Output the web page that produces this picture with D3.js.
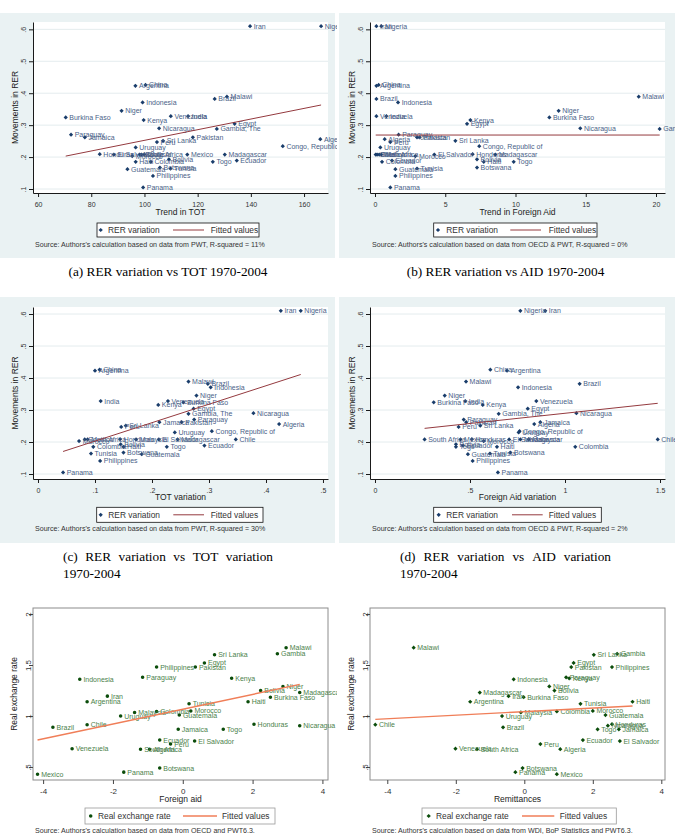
<!DOCTYPE html>
<html><head><meta charset="utf-8">
<script src="https://cdn.jsdelivr.net/npm/d3@7"></script>
<style>body{margin:0;background:#fff}</style>
</head><body>
<script>
// ---------------- DATA ----------------
const countries = ["Iran","Nigeria","China","Argentina","Malawi","Brazil","Indonesia","Niger","Venezuela","India","Burkina Faso","Kenya","Egypt","Nicaragua","Gambia, The","Paraguay","Jamaica","Pakistan","Algeria","Sri Lanka","Peru","Congo, Republic of","Uruguay","Honduras","El Salvador","Morocco","Malaysia","Mexico","Madagascar","South Africa","Chile","Bolivia","Ecuador","Togo","Haiti","Colombia","Botswana","Tunisia","Guatemala","Philippines","Panama"];
const rerMovement = [0.61,0.61,0.426,0.423,0.389,0.382,0.371,0.345,0.328,0.328,0.324,0.316,0.304,0.290,0.288,0.270,0.262,0.262,0.256,0.251,0.247,0.234,0.230,0.209,0.208,0.203,0.208,0.208,0.208,0.208,0.208,0.193,0.189,0.185,0.185,0.185,0.167,0.164,0.162,0.141,0.105];
const trendTOT = [139.7,166.4,100.4,96.6,131.0,126.4,99.3,91.4,109.9,116.4,70.4,99.7,133.9,105.5,127.2,72.4,77.6,118.2,166.1,107.0,104.7,152.0,96.7,83.2,88.5,95.4,98.2,116.1,130.2,98.9,99.9,109.2,134.7,125.7,96.7,102.4,105.8,109.8,93.6,103.2,99.5];
const trendAid = [0.10,0.45,0.26,0.10,18.77,0.10,1.64,13.07,0.10,0.81,12.41,6.79,6.55,14.61,20.26,1.68,2.99,3.18,0.69,5.72,1.09,7.42,0.38,6.95,4.22,2.87,0.45,0.30,8.56,0.15,0.05,7.26,1.21,9.87,7.74,0.50,7.26,2.99,1.45,1.45,1.09];
const totVariation = [0.426,0.461,0.108,0.100,0.264,0.298,0.303,0.278,0.228,0.110,0.255,0.211,0.273,0.378,0.264,0.274,0.213,0.252,0.423,0.154,0.146,0.305,0.240,0.144,0.212,0.072,0.172,0.087,0.245,0.082,0.347,0.145,0.292,0.226,0.150,0.097,0.150,0.093,0.182,0.109,0.044];
const aidVariation = [0.896,0.765,0.607,0.695,0.479,1.077,0.753,0.367,0.849,0.475,0.309,0.567,0.804,1.060,0.651,0.467,0.870,0.480,0.838,0.554,0.440,0.761,0.756,0.510,0.706,0.572,0.809,0.450,0.765,0.261,1.488,0.426,0.463,0.426,0.642,1.054,0.712,0.605,0.489,0.514,0.647];

const countriesB = ["Malawi","Gambia","Sri Lanka","Egypt","Philippines","Pakistan","Indonesia","Paraguay","Kenya","Iran","Argentina","Niger","Bolivia","Madagascar","Burkina Faso","Haiti","Tunisia","Malaysia","Colombia","Morocco","Guatemala","Uruguay","Brazil","Chile","Jamaica","Togo","Honduras","Nicaragua","Ecuador","Peru","El Salvador","Venezuela","South Africa","Algeria","Botswana","Panama","Mexico"];
const realExchangeRate = [1.67,1.61,1.60,1.52,1.48,1.48,1.36,1.38,1.37,1.195,1.14,1.29,1.25,1.23,1.185,1.14,1.12,1.035,1.045,1.05,1.01,1.0,0.89,0.915,0.87,0.87,0.92,0.905,0.765,0.725,0.755,0.68,0.675,0.675,0.49,0.45,0.43];
const foreignAid = [2.96,2.71,0.91,0.62,-0.75,0.36,-2.95,-1.15,1.40,-2.16,-2.74,2.87,2.23,3.35,2.51,1.87,0.18,-1.38,-0.75,0.23,-0.10,-1.78,-3.72,-2.74,-0.13,1.16,2.04,3.35,-0.66,-0.35,0.34,-3.17,-1.21,-0.95,-0.66,-1.69,-4.16];
const remittances = [-3.23,2.71,2.03,1.44,2.56,1.37,-0.31,1.22,1.31,-0.46,-1.58,0.73,0.88,-1.30,-0.02,3.16,1.64,-0.10,0.95,2.00,2.37,-0.65,-0.62,-4.35,2.76,2.14,2.56,2.44,1.71,0.47,2.79,-2.01,-1.38,1.05,-0.05,-0.26,0.95];

// fitted lines [intercept, slope]
const fitA = [0.0857, 0.001667];
const fitB = [0.269, 0.0];
const fitC = [0.145, 0.577];
const fitD = [0.226, 0.0638];
const fitE = [1.067, 0.0726];
const fitF = [1.043, 0.0173];

const ticksTopY = [0.1,0.2,0.3,0.4,0.5,0.6];
const ticksA = [60,80,100,120,140,160];
const ticksB = [0,5,10,15,20];
const ticksC = [0,0.1,0.2,0.3,0.4,0.5];
const ticksD = [0,0.5,1,1.5];
const ticksBotY = [0.5,1,1.5,2];
const ticksEF = [-4,-2,0,2,4];

// ---------------- DRAW ----------------
const W=675,H=839;
const SANS="'Liberation Sans', Arial, sans-serif";
const SERIF="'Liberation Serif', 'Times New Roman', serif";
const svg=d3.select('body').append('svg').attr('width',W).attr('height',H).style('display','block');
svg.append('rect').attr('width',W).attr('height',H).attr('fill','#fff');
const defs=svg.append('defs');
const fmt=d=>d3.format('~g')(d).replace('\u2212','-').replace(/^0\./,'.').replace(/^-0\./,'-.');

const stata={bg:'#eaf2f3',grid:'#e4ecee',axis:'#1a1a1a',tick:'#333',marker:'#1a3d6b',label:'#4a5f88',fit:'#943a3f',fitW:1,symbol:'diamond',legendStroke:'#111',tickFont:7,tickPad:5};
const green={bg:null,grid:null,box:'#8c8c8c',axis:'#444',tick:'#333',marker:'#0b4d0b',label:'#4b7f4b',fit:'#f07e58',fitW:1.4,legendStroke:'#999',tickFont:8,tickPad:4};

function panel(p){
  const st=p.style;
  defs.append('clipPath').attr('id','clip-'+p.id).append('rect').attr('x',p.clip[0]).attr('y',0).attr('width',p.clip[1]-p.clip[0]).attr('height',H);
  const g=svg.append('g').attr('clip-path',`url(#clip-${p.id})`);
  if(st.bg) g.append('rect').attr('x',p.bg[0]).attr('y',p.bg[1]).attr('width',p.bg[2]-p.bg[0]).attr('height',p.bg[3]-p.bg[1]).attr('fill',st.bg);
  const [x0,y0,x1,y1]=p.plot;
  const x=d3.scaleLinear().domain(p.xDomain).range([x0,x1]);
  const y=d3.scaleLinear().domain(p.yDomain).range([y1,y0]);
  g.append('rect').attr('x',x0).attr('y',y0).attr('width',x1-x0).attr('height',y1-y0).attr('fill','#fff')
    .attr('stroke',st.box||'none').attr('stroke-width',1);
  if(st.grid) g.append('g').selectAll('line').data(p.yTicks).join('line')
    .attr('x1',x0).attr('x2',x1).attr('y1',d=>y(d)).attr('y2',d=>y(d)).attr('stroke',st.grid).attr('stroke-width',1);
  // y axis
  const ya=g.append('g').attr('transform',`translate(${x0},0)`)
    .call(d3.axisLeft(y).tickValues(p.yTicks).tickFormat(fmt).tickSize(4).tickSizeOuter(0));
  ya.select('.domain').attr('stroke',st.box?'none':st.axis);
  ya.selectAll('.tick line').attr('stroke',st.axis);
  ya.selectAll('.tick text').attr('x',0).attr('y',0).attr('dy',0).attr('text-anchor','middle')
    .attr('transform',`translate(${-p.yLabOff},0) rotate(-90)`).attr('font-size',st.tickFont).attr('font-family',SANS).attr('fill',st.tick);
  // x axis
  const xa=g.append('g').attr('transform',`translate(0,${y1})`)
    .call(d3.axisBottom(x).tickValues(p.xTicks).tickFormat(fmt).tickSize(4).tickSizeOuter(0).tickPadding(st.tickPad));
  xa.select('.domain').attr('stroke',st.box?'none':st.axis);
  xa.selectAll('.tick line').attr('stroke',st.axis);
  xa.selectAll('.tick text').attr('font-size',st.tickFont).attr('font-family',SANS).attr('fill',st.tick);
  // titles
  g.append('text').attr('x',(x0+x1)/2).attr('y',p.xTitleY).attr('text-anchor','middle').attr('font-size',8.5)
    .attr('font-family',SANS).attr('fill','#222').text(p.xTitle);
  g.append('text').attr('transform',`translate(${p.yTitleX},${(y0+y1)/2}) rotate(-90)`).attr('text-anchor','middle')
    .attr('font-size',8.5).attr('font-family',SANS).attr('fill','#222').text(p.yTitle);
  // points
  const pts=p.xs.map((v,i)=>({x:v,y:p.ys[i],n:p.names[i]}));
  const isDia = st.symbol==='diamond' || p.diamond;
  const sym = isDia ? d3.symbol(d3.symbolSquare,9) : d3.symbol(d3.symbolCircle,10);
  const rot = isDia ? ' rotate(45)' : '';
  g.append('g').selectAll('path').data(pts).join('path')
    .attr('d',sym).attr('transform',d=>`translate(${x(d.x)},${y(d.y)})${rot}`).attr('fill',st.marker);
  g.append('g').selectAll('text').data(pts).join('text')
    .attr('x',d=>x(d.x)+3.6).attr('y',d=>y(d.y)+2.5).attr('font-size',7).attr('font-family',SANS)
    .attr('fill',st.label).text(d=>d.n);
  // fit
  const [a,b]=p.fit; const ex=d3.extent(p.xs);
  g.append('line').attr('x1',x(ex[0])).attr('x2',x(ex[1])).attr('y1',y(a+b*ex[0])).attr('y2',y(a+b*ex[1]))
    .attr('stroke',st.fit).attr('stroke-width',st.fitW);
  // legend
  const L=p.legend;
  g.append('rect').attr('x',L.box[0]).attr('y',L.box[1]).attr('width',L.box[2]-L.box[0]).attr('height',L.box[3]-L.box[1])
    .attr('fill','#fff').attr('stroke',st.legendStroke).attr('stroke-width',0.8);
  const ly=(L.box[1]+L.box[3])/2;
  g.append('path').attr('d',sym).attr('transform',`translate(${L.marker},${ly})${rot}`).attr('fill',st.marker);
  g.append('text').attr('x',L.t1).attr('y',ly+3).attr('font-size',8.4).attr('font-family',SANS).attr('fill','#333').text(p.legendText);
  g.append('line').attr('x1',L.line[0]).attr('x2',L.line[1]).attr('y1',ly).attr('y2',ly).attr('stroke',st.fit).attr('stroke-width',st.fitW);
  g.append('text').attr('x',L.t2).attr('y',ly+3).attr('font-size',8.4).attr('font-family',SANS).attr('fill','#333').text('Fitted values');
  // source
  g.append('text').attr('x',p.source[0]).attr('y',p.source[1]).attr('font-size',7.1).attr('font-family',SANS).attr('fill','#333').text(p.sourceText);
}

function captionCentered(txt,cx,yy){
  svg.append('text').attr('x',cx).attr('y',yy).attr('text-anchor','middle').attr('font-size',13.3).attr('font-family',SERIF).attr('fill','#000').text(txt);
}
function captionJustified(line1,line2,xa,xb,yy1,yy2){
  const words=line1.split(' ');
  const ts=words.map(w=>svg.append('text').attr('y',yy1).attr('font-size',13.3).attr('font-family',SERIF).attr('fill','#000').text(w));
  const lens=ts.map(t=>t.node().getComputedTextLength());
  const gap=(xb-xa-d3.sum(lens))/(words.length-1);
  let cx=xa; ts.forEach((t,i)=>{t.attr('x',cx); cx+=lens[i]+gap;});
  svg.append('text').attr('x',xa).attr('y',yy2).attr('font-size',13.3).attr('font-family',SERIF).attr('fill','#000').text(line2);
}

panel({id:'a',style:stata,clip:[0,337],bg:[0,13,335,258],plot:[33,22,328,193],xDomain:[58.1,169],yDomain:[0.0875,0.623],
  xTicks:ticksA,yTicks:ticksTopY,yLabOff:7.5,xTitle:'Trend in TOT',xTitleY:214.5,yTitle:'Movements in RER',yTitleX:17.5,
  xs:trendTOT,ys:rerMovement,names:countries,fit:fitA,legendText:'RER variation',
  legend:{box:[97,223,259,237],marker:100.7,t1:108,line:[173,204],t2:210.7},
  source:[35,247],sourceText:"Source: Authors's calculation based on data from PWT, R-squared = 11%"});
panel({id:'b',style:stata,clip:[337,675],bg:[339,13,675,258],plot:[370,22,665,193],xDomain:[-0.356,20.64],yDomain:[0.0875,0.623],
  xTicks:ticksB,yTicks:ticksTopY,yLabOff:7.5,xTitle:'Trend in Foreign Aid',xTitleY:214.5,yTitle:'Movements in RER',yTitleX:354.5,
  xs:trendAid,ys:rerMovement,names:countries,fit:fitB,legendText:'RER variation',
  legend:{box:[433.7,223,597,237],marker:438,t1:446.3,line:[510.3,541],t2:548.7},
  source:[372,247],sourceText:"Source: Authors's calculation based on data from OECD & PWT, R-squared = 0%"});
panel({id:'c',style:stata,clip:[0,337],bg:[0,297,335,543],plot:[33,307,328,479],xDomain:[-0.00877,0.5088],yDomain:[0.0844,0.6219],
  xTicks:ticksC,yTicks:ticksTopY,yLabOff:7.5,xTitle:'TOT variation',xTitleY:500,yTitle:'Movements in RER',yTitleX:17.5,
  xs:totVariation,ys:rerMovement,names:countries,fit:fitC,legendText:'RER variation',
  legend:{box:[96.7,507.3,263,522.3],marker:100.7,t1:108.3,line:[173.3,204],t2:210.7},
  source:[35,531],sourceText:"Source: Authors's calculation based on data from PWT, R-squared = 30%"});
panel({id:'d',style:stata,clip:[337,675],bg:[339,297,675,543],plot:[370,307,665,479],xDomain:[-0.0263,1.5263],yDomain:[0.0844,0.6219],
  xTicks:ticksD,yTicks:ticksTopY,yLabOff:7.5,xTitle:'Foreign Aid variation',xTitleY:500,yTitle:'Movements in RER',yTitleX:354.5,
  xs:aidVariation,ys:rerMovement,names:countries,fit:fitD,legendText:'RER variation',
  legend:{box:[433.7,507.3,601.3,522.3],marker:438.7,t1:446.3,line:[512,542.7],t2:548.7},
  source:[372,531],sourceText:"Source: Authors's calculation based on data from OECD & PWT,  R-squared = 2%"});
panel({id:'e',style:green,clip:[0,337],plot:[33,608,328,780],xDomain:[-4.29,4.16],yDomain:[0.373,2.059],
  xTicks:ticksEF,yTicks:ticksBotY,yLabOff:2.5,xTitle:'Foreign aid',xTitleY:801.5,yTitle:'Real exchange rate',yTitleX:16.5,
  xs:foreignAid,ys:realExchangeRate,names:countriesB,fit:fitE,legendText:'Real exchange rate',
  legend:{box:[85,808,275,824],marker:90.7,t1:98,line:[183,217],t2:222},
  source:[35,833],sourceText:"Source: Authors's calculation based on data from OECD and PWT6.3."});
panel({id:'f',style:green,diamond:true,clip:[337,675],plot:[370,608,665,780],xDomain:[-4.505,4.108],yDomain:[0.373,2.059],
  xTicks:ticksEF,yTicks:ticksBotY,yLabOff:2.5,xTitle:'Remittances',xTitleY:801.5,yTitle:'Real exchange rate',yTitleX:353.5,
  xs:remittances,ys:realExchangeRate,names:countriesB,fit:fitF,legendText:'Real exchange rate',
  legend:{box:[422,808,616.3,824],marker:428.7,t1:436,line:[522,554.3],t2:559.7},
  source:[372,833],sourceText:"Source: Authors's calculation based on data from WDI, BoP Statistics and PWT6.3."});

captionCentered('(a) RER variation vs TOT 1970-2004',168,276);
captionCentered('(b) RER variation vs AID 1970-2004',505.5,276);
captionJustified('(c) RER variation vs TOT variation','1970-2004',63,273,561,578);
captionJustified('(d) RER variation vs AID variation','1970-2004',400,611,561,578);
</script>
</body></html>
